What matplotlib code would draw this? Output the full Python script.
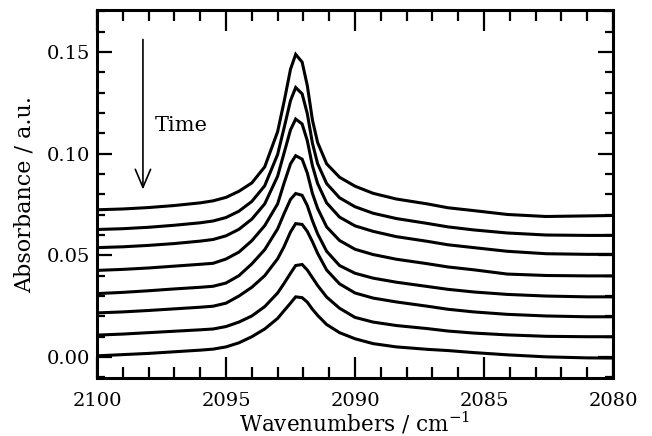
import matplotlib
matplotlib.use("Agg")
import matplotlib.pyplot as plt
from matplotlib.ticker import MultipleLocator

# wavenumber grid (cm^-1)
wavenumbers = [2100, 2099, 2098, 2097, 2096, 2095.5, 2095, 2094.5, 2094, 2093.5,
               2093, 2092.75, 2092.5, 2092.3, 2092.05, 2091.85, 2091.65, 2091.45, 2091.1, 2090.6,
               2090, 2089.3, 2088.4, 2087.2, 2086.4, 2085.4, 2084.1, 2082.6, 2081, 2080]

# absorbance spectra, earliest (top) to latest (bottom)
spec1 = [0.0724, 0.0728, 0.0735, 0.0745, 0.0758, 0.0768, 0.0785, 0.0815, 0.0856, 0.0935,
         0.1108, 0.1255, 0.1415, 0.1488, 0.1450, 0.1335, 0.1165, 0.1055, 0.0950, 0.0884,
         0.0840, 0.0805, 0.0777, 0.0753, 0.0734, 0.0720, 0.0701, 0.0691, 0.0694, 0.0696]
spec2 = [0.0627, 0.0631, 0.0638, 0.0648, 0.0660, 0.0669, 0.0686, 0.0717, 0.0765, 0.0842,
         0.0996, 0.1126, 0.1261, 0.1325, 0.1294, 0.1197, 0.1051, 0.0951, 0.0853, 0.0783,
         0.0739, 0.0707, 0.0681, 0.0657, 0.0640, 0.0625, 0.0610, 0.0600, 0.0598, 0.0598]
spec3 = [0.0538, 0.0542, 0.0549, 0.0558, 0.0570, 0.0578, 0.0596, 0.0628, 0.0678, 0.0753,
         0.0889, 0.1003, 0.1117, 0.1170, 0.1146, 0.1064, 0.0940, 0.0853, 0.0758, 0.0688,
         0.0645, 0.0618, 0.0592, 0.0569, 0.0552, 0.0538, 0.0520, 0.0508, 0.0505, 0.0505]
spec4 = [0.0426, 0.0431, 0.0438, 0.0447, 0.0456, 0.0461, 0.0482, 0.0516, 0.0572, 0.0646,
         0.0753, 0.0855, 0.0950, 0.0990, 0.0973, 0.0905, 0.0804, 0.0731, 0.0640, 0.0573,
         0.0530, 0.0504, 0.0481, 0.0459, 0.0443, 0.0429, 0.0408, 0.0401, 0.0399, 0.0399]
spec5 = [0.0312, 0.0318, 0.0326, 0.0335, 0.0343, 0.0348, 0.0364, 0.0400, 0.0458, 0.0528,
         0.0630, 0.0705, 0.0775, 0.0804, 0.0795, 0.0745, 0.0670, 0.0606, 0.0520, 0.0450,
         0.0412, 0.0388, 0.0368, 0.0347, 0.0333, 0.0320, 0.0308, 0.0300, 0.0296, 0.0296]
spec6 = [0.0217, 0.0222, 0.0229, 0.0237, 0.0245, 0.0250, 0.0265, 0.0300, 0.0343, 0.0400,
         0.0483, 0.0543, 0.0615, 0.0656, 0.0652, 0.0618, 0.0567, 0.0510, 0.0428, 0.0360,
         0.0315, 0.0290, 0.0271, 0.0250, 0.0235, 0.0222, 0.0210, 0.0202, 0.0198, 0.0198]
spec7 = [0.0108, 0.0113, 0.0120, 0.0127, 0.0134, 0.0138, 0.0150, 0.0172, 0.0202, 0.0248,
         0.0315, 0.0362, 0.0412, 0.0450, 0.0455, 0.0428, 0.0390, 0.0352, 0.0295, 0.0240,
         0.0195, 0.0172, 0.0155, 0.0140, 0.0128, 0.0118, 0.0109, 0.0102, 0.0100, 0.0100]
spec8 = [0.0006, 0.0012, 0.0018, 0.0026, 0.0034, 0.0039, 0.0050, 0.0070, 0.0100, 0.0138,
         0.0190, 0.0228, 0.0265, 0.0296, 0.0292, 0.0270, 0.0235, 0.0205, 0.0160, 0.0120,
         0.0090, 0.0066, 0.0050, 0.0038, 0.0032, 0.0022, 0.0011, 0.0001, -0.0004, -0.0005]

spectra = [spec1, spec2, spec3, spec4, spec5, spec6, spec7, spec8]

xticks = [2100, 2095, 2090, 2085, 2080]
yticks = [0.00, 0.05, 0.10, 0.15]

plt.rcParams["font.family"] = ["DejaVu Serif"]
plt.rcParams["mathtext.fontset"] = "dejavuserif"

fig = plt.figure(figsize=(6.52, 4.36), dpi=100)
ax = fig.add_axes([0.1488, 0.1330, 0.7914, 0.8440])

for s in spectra:
    ax.plot(wavenumbers, s, color="black", lw=2.2, solid_joinstyle="miter")

ax.set_xlim(2100, 2080)
ax.set_ylim(-0.0103, 0.1706)
ax.set_xticks(xticks)
ax.set_xticklabels([str(t) for t in xticks])
ax.set_yticks(yticks)
ax.set_yticklabels(["%.2f" % t for t in yticks])
ax.xaxis.set_minor_locator(MultipleLocator(1))
ax.yaxis.set_minor_locator(MultipleLocator(0.01))

ax.tick_params(axis="x", which="major", direction="in", length=15, width=1.6,
               top=True, bottom=True, pad=10, labelsize=14)
ax.tick_params(axis="x", which="minor", direction="in", length=8, width=1.6,
               top=True, bottom=True)
ax.tick_params(axis="y", which="major", direction="in", length=11, width=1.6,
               left=True, right=True, pad=5, labelsize=14)
ax.tick_params(axis="y", which="minor", direction="in", length=6, width=1.6,
               left=True, right=True)
for sp in ax.spines.values():
    sp.set_linewidth(2.2)

ax.set_xlabel("Wavenumbers / cm$^{-1}$", fontsize=15.5, labelpad=0)
ax.set_ylabel("Absorbance / a.u.", fontsize=16, labelpad=8)

ax.annotate("", xy=(2098.22, 0.0810), xytext=(2098.22, 0.1575),
            arrowprops=dict(arrowstyle="->,head_length=1.3,head_width=0.55",
                            color="black", lw=1.2))
ax.text(2097.75, 0.1137, "Time", fontsize=15, ha="left", va="center")

fig.savefig("out.png", dpi=100)
